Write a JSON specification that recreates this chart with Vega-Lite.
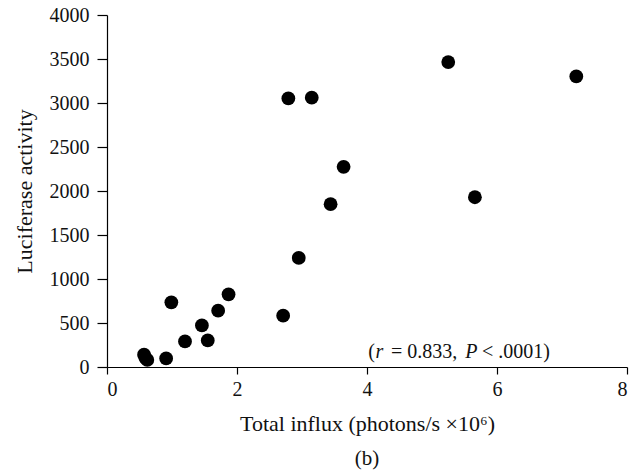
{
  "$schema": "https://vega.github.io/schema/vega-lite/v6.json",
  "width": 520,
  "height": 352,
  "autosize": {"type": "none"},
  "padding": {"left": 107, "top": 15, "right": 11, "bottom": 109},
  "background": "white",
  "config": {
    "view": {"stroke": null},
    "font": "Liberation Serif",
    "axis": {
      "domainColor": "black",
      "domainWidth": 1.2,
      "tickColor": "black",
      "tickWidth": 1.2,
      "labelColor": "#111",
      "titleColor": "#111",
      "labelFont": "Liberation Serif",
      "titleFont": "Liberation Serif",
      "labelFontSize": 20,
      "titleFontSize": 22,
      "titleFontWeight": "normal",
      "grid": false
    }
  },
  "title": {
    "text": "(b)",
    "orient": "bottom",
    "font": "Liberation Serif",
    "fontSize": 21,
    "fontWeight": "normal",
    "color": "#111",
    "offset": 14,
    "anchor": "middle"
  },
  "data": {
    "values": [
      {"x": 0.57, "y": 140},
      {"x": 0.59, "y": 105},
      {"x": 0.62, "y": 80},
      {"x": 0.91, "y": 98},
      {"x": 0.99, "y": 735},
      {"x": 1.2, "y": 291},
      {"x": 1.46, "y": 473},
      {"x": 1.55, "y": 302},
      {"x": 1.71, "y": 640},
      {"x": 1.87, "y": 826},
      {"x": 2.71, "y": 583},
      {"x": 2.79, "y": 3052},
      {"x": 3.15, "y": 3060},
      {"x": 2.95, "y": 1240},
      {"x": 3.44, "y": 1850},
      {"x": 3.64, "y": 2275},
      {"x": 5.25, "y": 3465},
      {"x": 5.66, "y": 1929},
      {"x": 7.22, "y": 3302}
    ]
  },
  "layer": [
    {
      "mark": {"type": "circle", "color": "black", "opacity": 1, "size": 190},
      "encoding": {
        "x": {
          "field": "x",
          "type": "quantitative",
          "scale": {"domain": [0, 8], "nice": false, "zero": true},
          "axis": {
            "values": [0, 2, 4, 6, 8],
            "format": "d",
            "tickSize": 7,
            "labelPadding": 5,
            "title": "Total influx (photons/s ×10⁶)",
            "titlePadding": 14
          }
        },
        "y": {
          "field": "y",
          "type": "quantitative",
          "scale": {"domain": [0, 4000], "nice": false},
          "axis": {
            "values": [0, 500, 1000, 1500, 2000, 2500, 3000, 3500, 4000],
            "format": "d",
            "tickSize": 10,
            "labelPadding": 8,
            "title": "Luciferase activity",
            "titlePadding": 13
          }
        }
      }
    },
    {
      "data": {"values": [
        {"x": 4.02, "y": 106, "label": "("},
        {"x": 4.37, "y": 106, "label": "= 0.833,"},
        {"x": 5.77, "y": 106, "label": "< .0001)"}
      ]},
      "mark": {"type": "text", "font": "Liberation Serif", "fontSize": 20, "color": "#111", "align": "left", "baseline": "alphabetic"},
      "encoding": {
        "x": {"field": "x", "type": "quantitative"},
        "y": {"field": "y", "type": "quantitative"},
        "text": {"field": "label"}
      }
    },
    {
      "data": {"values": [
        {"x": 4.13, "y": 106, "label": "r"},
        {"x": 5.51, "y": 106, "label": "P"}
      ]},
      "mark": {"type": "text", "font": "Liberation Serif", "fontSize": 20, "fontStyle": "italic", "color": "#111", "align": "left", "baseline": "alphabetic"},
      "encoding": {
        "x": {"field": "x", "type": "quantitative"},
        "y": {"field": "y", "type": "quantitative"},
        "text": {"field": "label"}
      }
    }
  ]
}
